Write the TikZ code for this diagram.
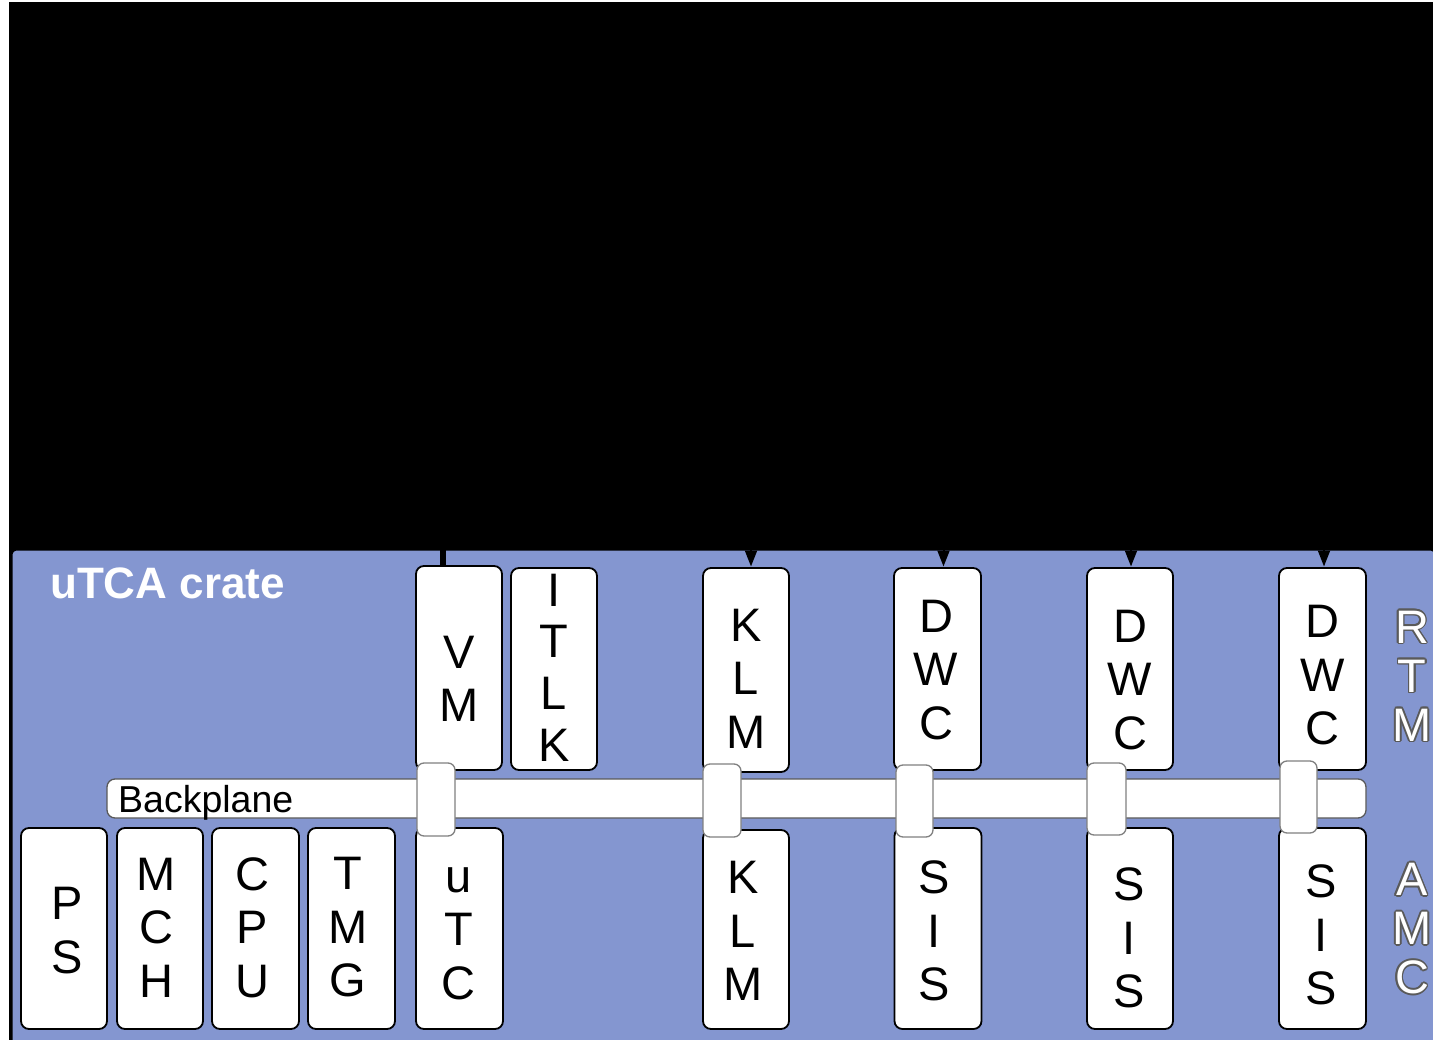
\documentclass[tikz,border=0pt]{standalone}
\usepackage{fontspec}
\setmainfont{Liberation Sans}
\usetikzlibrary{arrows.meta,calc}
\definecolor{crate}{RGB}{132,150,208}
\definecolor{olgray}{RGB}{90,90,90}
\tikzset{
  modbox/.style={draw=black,fill=white,line width=1.8pt,rounded corners=8pt,
    minimum width=86pt,minimum height=202pt,inner sep=0pt,outer sep=0pt},
  conbox/.style={draw=gray,fill=white,line width=1.3pt,rounded corners=7pt,
    minimum width=38pt,minimum height=72pt,inner sep=0pt,outer sep=0pt},
  letters/.style={font=\fontsize{47}{53.5}\selectfont,align=center,inner sep=0pt,text=black},
  outl/.style={font=\fontsize{47}{49}\selectfont,align=center,inner sep=0pt},
  arr/.style={line width=2pt,black,-{Triangle[width=12pt,length=16pt]},shorten >=1.5pt},
}
\newcommand\outlined[3]{%
  \foreach \a in {0,30,...,330} \node[outl,text=olgray] at ($(#1)+(\a:1.6pt)$) {#2};
  \node[outl,text=white] (#3) at (#1) {#2};}
\begin{document}
\begin{tikzpicture}[x=1pt,y=-1pt]
\useasboundingbox (0,0) rectangle (1433,1040);
\fill[white] (0,0) rectangle (1433,1040);
\fill[black] (9,2) rectangle (1433,1040);
% crate
\draw[fill=crate,line width=3pt,rounded corners=6pt] (11,549) rectangle (1436,1052);
\node[anchor=base west,inner sep=0pt,text=white,font=\bfseries\fontsize{44}{50}\selectfont] (title) at (50,598) {uTCA crate};
% free ends of the connectors
\coordinate (s1) at (443,480);
\coordinate (s2) at (751,480);
\coordinate (s3) at (943.5,480);
\coordinate (s4) at (1131,480);
\coordinate (s5) at (1324,480);
% RTM row
\node[modbox,minimum height=204pt] (vm) at (459,668) {};
\node[modbox] (itlk) at (554,669) {};
\node[modbox,minimum height=204pt] (klmr) at (746,670) {};
\node[modbox,minimum width=87pt] (dwc1) at (937.5,669) {};
\node[modbox] (dwc2) at (1130,669) {};
\node[modbox,minimum width=87pt] (dwc3) at (1322.5,669) {};
% AMC row
\node[modbox,minimum height=201pt] (ps) at (64,928.5) {};
\node[modbox,minimum height=201pt] (mch) at (160,928.5) {};
\node[modbox,minimum height=201pt,minimum width=87pt] (cpu) at (255.5,928.5) {};
\node[modbox,minimum height=201pt,minimum width=87pt] (tmg) at (351.5,928.5) {};
\node[modbox,minimum height=201pt,minimum width=87pt] (utc) at (459.5,928.5) {};
\node[modbox,minimum height=199pt] (klma) at (746,929.5) {};
\node[modbox,minimum height=201pt,minimum width=87pt] (sis1) at (938,928.5) {};
\node[modbox,minimum height=201pt] (sis2) at (1130,928.5) {};
\node[modbox,minimum height=201pt,minimum width=87pt] (sis3) at (1322.5,928.5) {};
% connectors from above
\draw[line width=6pt,black] (s1) -- (s1 |- vm.north);
\draw[arr] (s2) -- (s2 |- klmr.north);
\draw[arr] (s3) -- (s3 |- dwc1.north);
\draw[arr] (s4) -- (s4 |- dwc2.north);
\draw[arr] (s5) -- (s5 |- dwc3.north);
% backplane
\node[draw=gray!70!black,fill=white,line width=1.3pt,rounded corners=8pt,
  minimum width=1259pt,minimum height=39pt,inner sep=0pt] (bp) at (736.5,798.5) {};
\node[anchor=base west,inner sep=0pt,font=\fontsize{37.5}{40}\selectfont] (bpt) at (118,812) {Backplane};
% slot connectors
\node[conbox,minimum height=73pt] (c1) at (436,799.5) {};
\node[conbox,minimum height=73pt] (c2) at (722,800.5) {};
\node[conbox,minimum width=37pt] (c3) at (914.5,801) {};
\node[conbox,minimum width=39pt] (c4) at (1106.5,799) {};
\node[conbox,minimum width=37pt] (c5) at (1298.5,797) {};
% labels RTM row
\node[letters] (vmt) at (459,679) {V\\M};
\node[letters,font=\fontsize{47}{51.7}\selectfont] (itlkt) at (554,667.5) {I\\T\\L\\K};
\node[letters] (klmrt) at (746,678.5) {K\\L\\M};
\node[letters] (dwc1t) at (936,670) {D\\W\\C};
\node[letters] (dwc2t) at (1130,680) {D\\W\\C};
\node[letters] (dwc3t) at (1322.5,675.5) {D\\W\\C};
% labels AMC row
\node[letters] (pst) at (67,930.5) {P\\S};
\node[letters] (mcht) at (156,927.5) {M\\C\\H};
\node[letters] (cput) at (252,927.5) {C\\P\\U};
\node[letters] (tmgt) at (348,927.5) {T\\M\\G};
\node[letters] (utct) at (458.5,933.5) {u\\T\\C};
\node[letters] (klmat) at (743,931) {K\\L\\M};
\node[letters] (sis1t) at (934,931) {S\\I\\S};
\node[letters] (sis2t) at (1129,938) {S\\I\\S};
\node[letters] (sis3t) at (1321.5,935) {S\\I\\S};
% side labels
\coordinate (rtmpos) at (1412,676);
\coordinate (amcpos) at (1412,928.5);
\outlined{rtmpos}{R\\T\\M}{rtm}
\outlined{amcpos}{A\\M\\C}{amc}
\end{tikzpicture}
\end{document}
